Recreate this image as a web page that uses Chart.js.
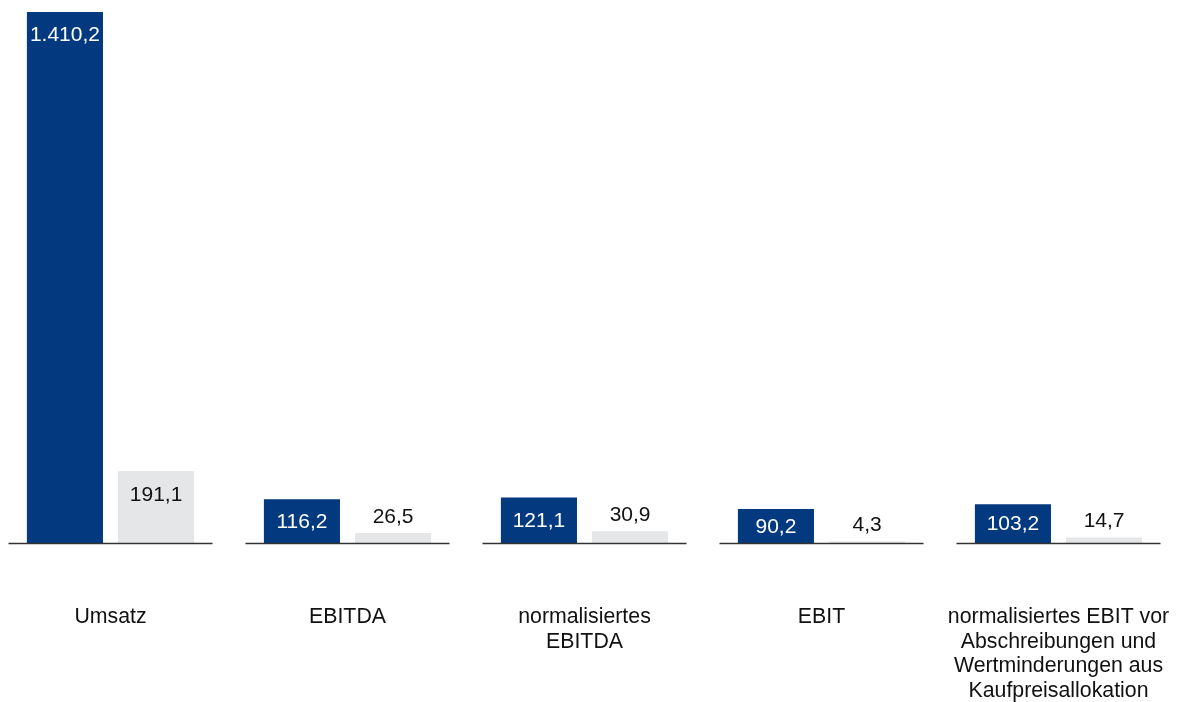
<!DOCTYPE html>
<html>
<head>
<meta charset="utf-8">
<script src="https://cdn.jsdelivr.net/npm/chart.js@4.4.1/dist/chart.umd.min.js"></script>
<style>
    html, body { margin: 0; padding: 0; background: #fff; overflow: hidden; }
    #wrap { position: absolute; left: -8px; top: 0; width: 1185px; height: 702px; }
</style>
</head>
<body>
<div id="wrap"><canvas id="kpiChart"></canvas></div>
<script>
const categories = [
    ['Umsatz'],
    ['EBITDA'],
    ['normalisiertes', 'EBITDA'],
    ['EBIT'],
    ['normalisiertes EBIT vor', 'Abschreibungen und', 'Wertminderungen aus', 'Kaufpreisallokation']
];
const currentValues = [1410.2, 116.2, 121.1, 90.2, 103.2];
const previousValues = [191.1, 26.5, 30.9, 4.3, 14.7];

const blue = '#03397f';
const grey = '#e5e6e7';
const fontName = '"Liberation Sans", Arial, sans-serif';

// 1410.2 -> "1.410,2"
function formatDe(v) {
    const parts = v.toFixed(1).split('.');
    const int = parts[0].replace(/\B(?=(\d{3})+(?!\d))/g, '.');
    return int + ',' + parts[1];
}

// short baseline under each category group
const baselinePlugin = {
    id: 'baselines',
    afterDatasetsDraw(chart) {
        const ctx = chart.ctx;
        const x = chart.scales.x;
        const y0 = chart.scales.y.getPixelForValue(0);
        ctx.save();
        ctx.strokeStyle = '#333';
        ctx.lineWidth = 1.6;
        categories.forEach((c, i) => {
            const cx = x.getPixelForValue(i);
            ctx.beginPath();
            ctx.moveTo(cx - 102, y0 + 0.5);
            ctx.lineTo(cx + 102, y0 + 0.5);
            ctx.stroke();
        });
        ctx.restore();
    }
};

// value labels
const valuePlugin = {
    id: 'values',
    afterDatasetsDraw(chart) {
        const ctx = chart.ctx;
        ctx.save();
        ctx.font = '21px ' + fontName;
        ctx.textAlign = 'center';
        ctx.textBaseline = 'middle';
        chart.data.datasets.forEach((ds, di) => {
            const meta = chart.getDatasetMeta(di);
            meta.data.forEach((bar, i) => {
                const top = bar.y;
                const base = bar.base;
                const h = base - top;
                let ty;
                if (di === 0) {
                    ctx.fillStyle = '#fff';
                    ty = Math.min(top + 23.5, (top + base) / 2 + 1);
                } else if (h > 45) {
                    ctx.fillStyle = '#111';
                    ty = top + 24;
                } else {
                    ctx.fillStyle = '#111';
                    ty = top - 16;
                }
                ctx.fillText(formatDe(ds.data[i]), bar.x, ty);
            });
        });
        ctx.restore();
    }
};

new Chart(document.getElementById('kpiChart'), {
    type: 'bar',
    data: {
        labels: categories,
        datasets: [{
            label: 'aktuell',
            data: currentValues,
            backgroundColor: blue,
            borderWidth: 0,
            barPercentage: 0.835,
            categoryPercentage: 0.769
        }, {
            label: 'Vorjahr',
            data: previousValues,
            backgroundColor: grey,
            borderWidth: 0,
            barPercentage: 0.835,
            categoryPercentage: 0.769
        }]
    },
    options: {
        responsive: true,
        maintainAspectRatio: false,
        animation: false,
        layout: { padding: { top: 12, left: 0, right: 0, bottom: 0 } },
        scales: {
            x: {
                grid: { display: false, drawTicks: false },
                border: { display: false },
                afterFit(scale) {
                    // keep the full width for the bars, fixed label band height
                    scale.paddingLeft = 0;
                    scale.paddingRight = 0;
                    scale.height = 159;
                },
                ticks: {
                    color: '#111',
                    padding: 62,
                    maxRotation: 0,
                    autoSkip: false,
                    font: { family: fontName, size: 21.3, lineHeight: 1.15 }
                }
            },
            y: {
                display: false,
                min: 0,
                max: Math.max(...currentValues)
            }
        },
        plugins: {
            legend: { display: false },
            tooltip: { enabled: false }
        }
    },
    plugins: [baselinePlugin, valuePlugin]
});
</script>
</body>
</html>
